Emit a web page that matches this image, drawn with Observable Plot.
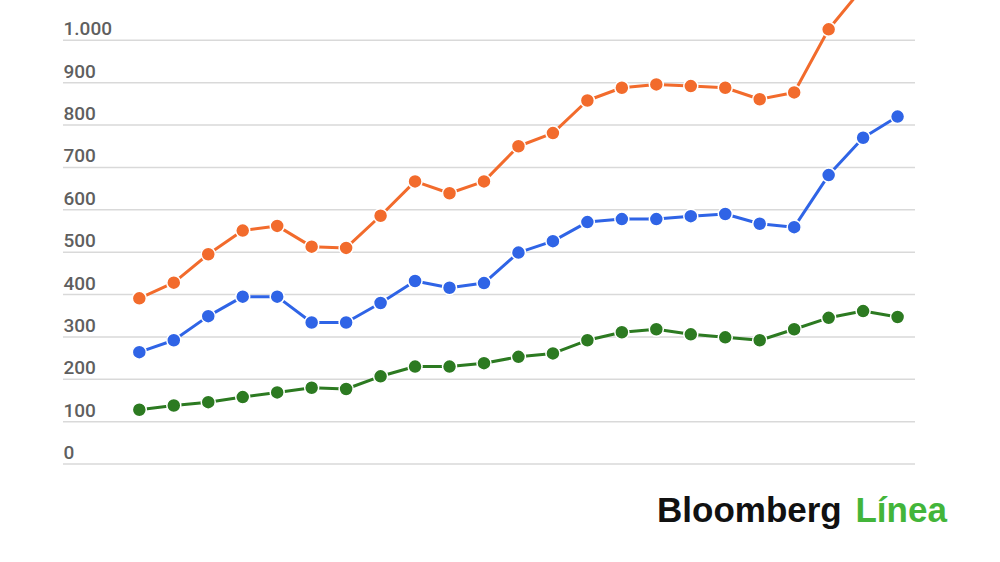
<!DOCTYPE html>
<html>
<head>
<meta charset="utf-8">
<script src="https://cdn.jsdelivr.net/npm/d3@7"></script>
<script src="https://cdn.jsdelivr.net/npm/@observablehq/plot@0.6"></script>
<style>
  html, body { margin: 0; padding: 0; background: #fff; }
  #wrap { position: relative; width: 1000px; height: 562px; overflow: hidden; }
  #logo { position: absolute; left: 657px; top: 490px; font-family: "Liberation Sans", Arial, sans-serif; font-weight: bold; font-size: 35px; letter-spacing: 0px; color: #111; white-space: nowrap; }
  #logo span { color: #43b53a; margin-left: 4px; }
</style>
</head>
<body>
<div id="wrap">
  <div id="chart"></div>
  <div id="logo">Bloomberg <span>Línea</span></div>
</div>
<script>
const periods = d3.range(1, 24);
const totalSeries = [391, 428, 495, 551, 562, 513, 510, 586, 667, 639, 667, 750, 781, 858, 888, 896, 892, 888, 861, 877, 1026, 1125, 1165];
const blueSeries  = [264, 292, 349, 395, 395, 334, 334, 380, 432, 416, 427, 499, 526, 571, 578, 578, 585, 590, 567, 559, 682, 770, 820];
const greenSeries = [128, 138, 146, 158, 169, 180, 177, 207, 230, 230, 238, 253, 261, 292, 311, 318, 306, 299, 292, 318, 345, 361, 347];
const yTicks = [0, 100, 200, 300, 400, 500, 600, 700, 800, 900, 1000];

const seriesDefs = [
  {name: "Total", values: totalSeries, color: "#f26b2c"},
  {name: "Azul", values: blueSeries, color: "#2f64e6"},
  {name: "Verde", values: greenSeries, color: "#2c7a21"}
];
const rows = seriesDefs.flatMap(s => s.values.map((v, i) => ({serie: s.name, period: periods[i], value: v})));

const esFormat = d3.formatLocale({decimal: ",", thousands: ".", grouping: [3], currency: ["$", ""]}).format(",");

const chart = Plot.plot({
  width: 1000,
  height: 470,
  marginLeft: 63,
  marginRight: 85,
  marginTop: 0,
  marginBottom: 6.5,
  x: {domain: [-1.2, 23.52], axis: null},
  y: {domain: [0, 1094], axis: null},
  color: {domain: seriesDefs.map(s => s.name), range: seriesDefs.map(s => s.color)},
  style: {background: "#fff"},
  marks: [
    Plot.ruleY(yTicks, {stroke: "#d9d9d9", strokeWidth: 1.5}),
    Plot.text(yTicks, {
      y: d => d, frameAnchor: "left", text: d => esFormat(d),
      textAnchor: "start", lineAnchor: "bottom", dy: -5, dx: 0,
      fill: "#5f5f5f", fontSize: 19, fontFamily: "Roboto, sans-serif", fontWeight: 500
    }),
    Plot.line(rows, {x: "period", y: "value", z: "serie", stroke: "serie", strokeWidth: 3, clip: true}),
    Plot.dot(rows, {x: "period", y: "value", fill: "serie", r: 7, stroke: "#fff", strokeWidth: 1.5, clip: true})
  ]
});
document.getElementById("chart").appendChild(chart);
</script>
</body>
</html>
